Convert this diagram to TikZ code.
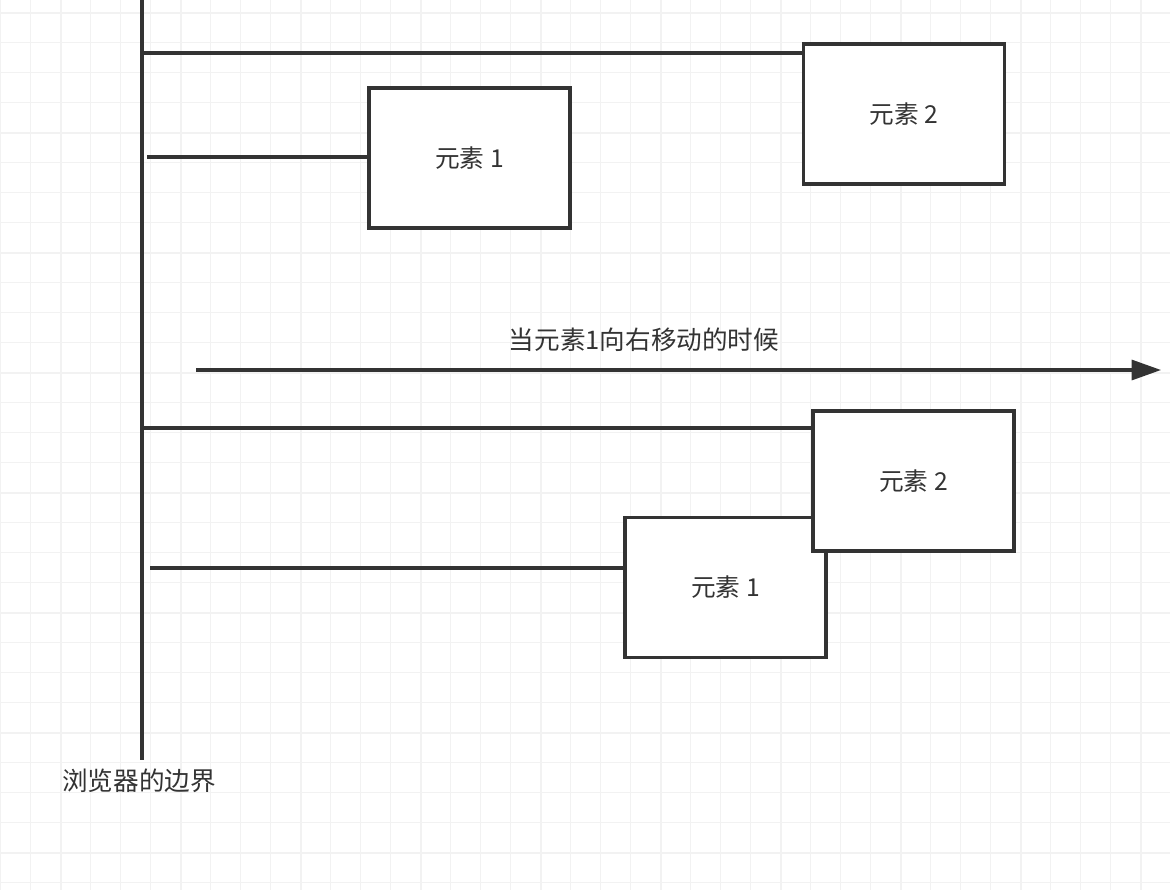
\documentclass[tikz,border=0pt]{standalone}
\usepackage{fontspec}
\setmainfont{Noto Sans CJK SC}
\usetikzlibrary{arrows.meta}
\definecolor{ink}{HTML}{333333}
\definecolor{gridc}{HTML}{F2F2F2}
\begin{document}
\begin{tikzpicture}[x=0.75pt,y=-0.75pt,
  elem/.style={draw=ink,line width=2.3pt,fill=white,minimum width=150.75pt,minimum height=105pt,inner sep=0pt,font=\fontsize{18.5}{20}\selectfont,text=ink},
  conn/.style={draw=ink,line width=2.3pt},
  lbl/.style={font=\fontsize{19.2}{21}\selectfont,text=ink,inner sep=0pt}]
\useasboundingbox (0,0) rectangle (1170,890);
\fill[white] (0,0) rectangle (1170,890);
% grid
\foreach \i in {0,...,39} {
  \pgfmathsetmacro\gx{0.7+30*\i}
  \draw[gridc,line width=0.9pt] (\gx,0) -- (\gx,890);
}
\foreach \i in {0,...,29} {
  \pgfmathsetmacro\gy{12.7+30*\i}
  \draw[gridc,line width=0.9pt] (0,\gy) -- (1170,\gy);
}
\foreach \i in {0,...,9} {
  \pgfmathsetmacro\gx{60.7+120*\i}
  \draw[gridc,line width=1.6pt] (\gx,0) -- (\gx,890);
}
\foreach \i in {0,...,7} {
  \pgfmathsetmacro\gy{12.7+120*\i}
  \draw[gridc,line width=1.6pt] (0,\gy) -- (1170,\gy);
}
% browser border
\coordinate (btop) at (142,0);
\coordinate (bbot) at (142,760);
\draw[conn] (btop) -- (bbot);
\node[lbl,anchor=west] (blabel) at (62,781) {浏览器的边界};
% top state
\node[elem] (e2a) at (904,114) {元素 2};
\node[elem] (e1a) at (469.5,158) {元素 1};
\coordinate (s2a) at (142,53);
\coordinate (s1a) at (147,157);
\draw[conn] (s2a) -- (s2a -| e2a.west);
\draw[conn] (s1a) -- (s1a -| e1a.west);
% arrow
\node[lbl] (move) at (644,340) {当元素1向右移动的时候};
\coordinate (arrS) at (196,370);
\coordinate (arrE) at (1161,370);
\draw[conn,-{Triangle[length=22pt,width=15pt]}] (arrS) -- (arrE);
% bottom state
\coordinate (s2b) at (142,428);
\coordinate (s1b) at (150,568);
\node[elem] (e1b) at (725.5,587.5) {元素 1};
\node[elem] (e2b) at (913.5,481) {元素 2};
\draw[conn] (s2b) -- (s2b -| e2b.west);
\draw[conn] (s1b) -- (s1b -| e1b.west);
\end{tikzpicture}
\end{document}
